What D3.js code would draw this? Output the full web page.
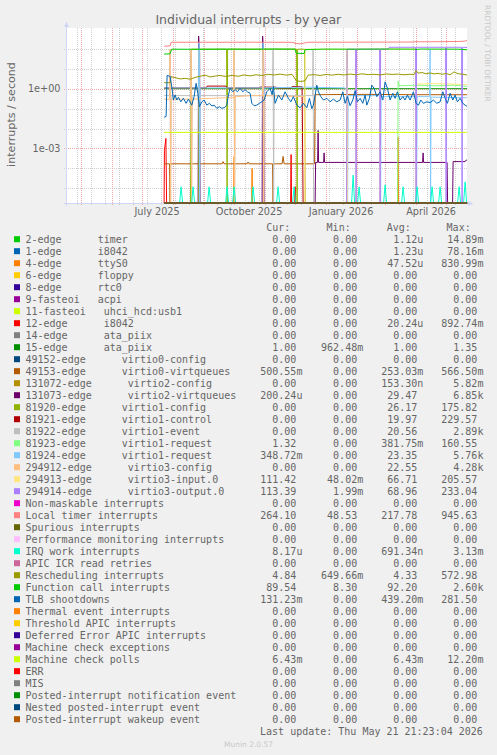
<!DOCTYPE html>
<html><head><meta charset="utf-8">
<script src="https://cdnjs.cloudflare.com/ajax/libs/d3/7.8.5/d3.min.js"></script>
<style>
html,body{margin:0;padding:0;background:#f0f0f0;}
svg{display:block;}
text{font-family:"DejaVu Sans",sans-serif;fill:#666;}
.mono{font-family:"DejaVu Sans Mono",monospace;white-space:pre;}
</style></head><body>
<svg id="chart" width="497" height="755"></svg>
<script>
// ---------- data ----------
const titleText = "Individual interrupts - by year";
const yAxisTitle = "interrupts / second";
const lastUpdate = "Last update: Thu May 21 21:23:04 2026";
const endTime = "2026-05-21T21:23:04Z";
const rangeDays = 400;
const dataStart = "2025-07-23T00:00:00Z";   // day 0 of the series below
const yDomain = [1.84e-6, 1112];
const yTickValues = [1, 1e-3];
const yTickLabels = ["1e+00", "1e-03"];
const xTickDates = ["2025-07-16", "2025-10-16", "2026-01-16", "2026-04-16"];
const xTickLabels = ["July 2025", "October 2025", "January 2026", "April 2026"];
const weekGridStart = "2025-04-27";

const seriesLabels = [
 "2-edge      timer","1-edge      i8042","4-edge      ttyS0","6-edge      floppy","8-edge      rtc0",
 "9-fasteoi   acpi","11-fasteoi   uhci_hcd:usb1","12-edge      i8042","14-edge      ata_piix","15-edge      ata_piix",
 "49152-edge      virtio0-config","49153-edge      virtio0-virtqueues","131072-edge      virtio2-config",
 "131073-edge      virtio2-virtqueues","81920-edge      virtio1-config","81921-edge      virtio1-control",
 "81922-edge      virtio1-event","81923-edge      virtio1-request","81924-edge      virtio1-request",
 "294912-edge      virtio3-config","294913-edge      virtio3-input.0","294914-edge      virtio3-output.0",
 "Non-maskable interrupts","Local timer interrupts","Spurious interrupts","Performance monitoring interrupts",
 "IRQ work interrupts","APIC ICR read retries","Rescheduling interrupts","Function call interrupts","TLB shootdowns",
 "Thermal event interrupts","Threshold APIC interrupts","Deferred Error APIC interrupts","Machine check exceptions",
 "Machine check polls","ERR","MIS","Posted-interrupt notification event","Nested posted-interrupt event",
 "Posted-interrupt wakeup event"];
const seriesColors = [
 "#00cc00","#0066b3","#ff8000","#ffcc00","#330099","#990099","#ccff00","#ff0000","#808080","#008f00",
 "#00487d","#b35a00","#b38f00","#6b006b","#8fb300","#b30000","#bebebe","#80ff80","#80c9ff","#ffc080",
 "#ffe680","#aa80ff","#ee00cc","#ff8080","#666600","#ffbfff","#00ffcc","#cc6699","#999900","#00cc00",
 "#0066b3","#ff8000","#ffcc00","#330099","#990099","#ccff00","#ff0000","#808080","#008f00","#00487d","#b35a00"];
const curValues = ["0.00","0.00","0.00","0.00","0.00","0.00","0.00","0.00","0.00","1.00","0.00","500.55m","0.00","200.24u","0.00","0.00","0.00","1.32","348.72m","0.00","111.42","113.39","0.00","264.10","0.00","0.00","8.17u","0.00","4.84","89.54","131.23m","0.00","0.00","0.00","0.00","6.43m","0.00","0.00","0.00","0.00","0.00"];
const minValues = ["0.00","0.00","0.00","0.00","0.00","0.00","0.00","0.00","0.00","962.48m","0.00","0.00","0.00","0.00","0.00","0.00","0.00","0.00","0.00","0.00","48.02m","1.99m","0.00","48.53","0.00","0.00","0.00","0.00","649.66m","8.30","0.00","0.00","0.00","0.00","0.00","0.00","0.00","0.00","0.00","0.00","0.00"];
const avgValues = ["1.12u","1.23u","47.52u","0.00","0.00","0.00","0.00","20.24u","0.00","1.00","0.00","253.03m","153.30n","29.47","26.17","19.97","20.56","381.75m","23.35","22.55","66.71","68.96","0.00","217.78","0.00","0.00","691.34n","0.00","4.33","92.20","439.20m","0.00","0.00","0.00","0.00","6.43m","0.00","0.00","0.00","0.00","0.00"];
const maxValues = ["14.89m","78.16m","830.99m","0.00","0.00","0.00","0.00","892.74m","0.00","1.35","0.00","566.50m","5.82m","6.85k","175.82","229.57","2.89k","160.55","5.76k","4.28k","205.57","233.04","0.00","945.63","0.00","0.00","3.13m","0.00","572.98","2.60k","281.50","0.00","0.00","0.00","0.00","12.20m","0.00","0.00","0.00","0.00","0.00"];

// series as [day since dataStart, value]
const zeroLine = [[0,0],[303,0]];
const ttyS0 = [[0,0],[69.5,0],[70,3.9e-4],[70.5,0],[87.5,0],[88,1.0e-4],[88.5,0],[233.5,0],[234,3.8e-3],[234.5,0],[303,0]];
const irq12 = [[0,0],[0.3,8e-4],[1.8,3.2e-3],[2.5,0],[126.5,0],[127,5e-4],[127.5,0],[130.5,0],[131,1.2e-5],[131.5,0],[303,0]];
const irq15 = [[0,1],[303,1]];
const irq49153 = [[0,1.7e-4],[5.5,1.7e-4],[6,0],[6.5,1.7e-4],[58,1.7e-4],[59,2.2e-4],[60,1.7e-4],[83,1.7e-4],[84,2.1e-4],[85,1.7e-4],[108.5,1.7e-4],[109,0],[109.5,1.7e-4],[118,1.7e-4],[119,4e-4],[120,1.7e-4],[150.5,1.7e-4],[151,0.5],[200,0.52],[250,0.5],[303,0.5]];
const irq131073 = [[0,0],[34,0],[34.5,440],[35.5,60],[36,0],[98,0],[98.5,440],[99.5,60],[100,0],[151,0],[151.5,2e-4],[153.5,2e-4],[154,8e-3],[154.5,2e-4],[159.5,2e-4],[160,6e-4],[160.5,2e-4],[258.5,2e-4],[259,6e-4],[259.5,2e-4],[283,2e-4],[283.5,0],[288.5,0],[289,2.2e-4],[301,2.2e-4],[302,2.6e-4],[303,2.6e-4]];
const irq81920 = [[0,0],[26.5,0],[27,96],[34.5,96],[35,0],[35.5,96],[62.5,96],[63,0],[63.5,96],[132.5,96],[133,0],[133.5,96],[140.5,96],[141,0],[303,0]];
const irq81921 = [[0,1.1],[20,1.1],[42,1.1],[43,1.35],[62,1.35],[63,1.1],[95,1.1],[96,1.2],[112,1.2],[113,1.1],[127,1.1],[128,1.3],[138,1.25],[139,0],[303,0]];
const irq81922 = [[0,0.45],[5.5,0.45],[6,96],[6.5,0],[7,0.45],[26.5,0.45],[27,96],[27.5,0],[28,0.45],[34.5,0.45],[35,96],[35.5,0],[36,0.45],[69.5,0.45],[70,96],[70.5,0],[71,0.45],[98.5,0.45],[99,96],[99.5,0],[100,0.45],[108.5,0.45],[109,96],[109.5,0],[110,0.45],[148.5,0.45],[149,96],[149.5,0],[303,0]];
const irq81923 = [[0,0],[233.5,0],[234,2.4],[235,1.4],[250,1.5],[270,1.4],[290,1.5],[303,1.32]];
const irq81924 = [[0,1.1],[34.5,1.1],[35,200],[35.5,0],[36,1.1],[98.5,1.1],[99,200],[99.5,0],[100,1.1],[140,1.2],[180,1.1],[182.5,1.0],[183,96],[183.5,0],[184,0.45],[215.5,0.45],[216,96],[216.5,0],[217,0.4],[251.5,0.4],[252,96],[252.5,0],[253,0.4],[265.5,0.4],[266,96],[266.5,0],[267,0.38],[303,0.35]];
const irq294912 = [[0,0.3],[5.5,0.3],[6,96],[6.5,0],[7,0.3],[26.5,0.3],[27,96],[27.5,0],[28,0.3],[60,0.35],[69.5,0.35],[70,96],[70.5,0],[71,0.4],[88,0.45],[98.5,0.45],[99,96],[99.5,0],[100,0.45],[140,0.4],[141,0],[303,0]];
const irq294913 = [[0,0],[140.5,0],[141,96],[182.5,96],[183,0],[183.5,96],[191.5,96],[192,0],[192.5,96],[215.5,96],[216,0],[216.5,96],[251.5,96],[252,0],[252.5,1.7],[270,1.8],[290,1.7],[303,1.6]];
const irq294914 = [[0,0],[182.5,0],[183,96],[191.5,96],[192,0],[192.5,96],[215.5,96],[216,0],[216.5,96],[224,96],[225,120],[251.5,120],[252,0],[252.5,120],[281.5,120],[282,0],[282.5,120],[297.5,120],[298,0],[298.5,120],[303,118]];
const localTimer = [[0,135],[6,140],[7,213],[30,215],[60,214],[90,216],[110,214],[128,213],[132,186],[136,178],[141,200],[144,214],[180,216],[220,218],[250,220],[252,232],[256,225],[280,230],[295,236],[300,242],[303,262]];
const irqWork = [[0,0],[15.5,0],[17,1.2e-5],[18.5,0],[27.5,0],[29,1.2e-5],[30.5,0],[43.5,0],[45,1.2e-5],[46.5,0],[61.5,0],[63,1.2e-5],[64.5,0],[68.5,0],[70,1.2e-5],[71.5,0],[87.5,0],[89,1.2e-5],[90.5,0],[112.5,0],[114,1.2e-5],[115.5,0],[128.5,0],[130,1.2e-5],[131.5,0],[187.5,0],[189,4.6e-5],[190.5,0],[193.5,0],[195,1.2e-5],[196.5,0],[219.5,0],[221,1.5e-5],[222.5,0],[237.5,0],[239,1.2e-5],[240.5,0],[251.5,0],[253,1.2e-5],[254.5,0],[266.5,0],[268,1.2e-5],[269.5,0],[274.5,0],[276,1.2e-5],[277.5,0],[293.5,0],[295,1.2e-5],[296.5,0],[299.5,0],[301,2.1e-5],[302.5,0],[303,0]];
const rescheduling = [[0,2.0],[6,2.0],[7,4.0],[11,3.6],[16,3.1],[21,3.3],[26,3.0],[32,3.8],[36,4.2],[41,4.8],[46,3.9],[51,4.3],[56,4.6],[62,4.1],[68,4.7],[74,4.2],[80,4.9],[86,4.4],[92,5.0],[98,4.6],[104,5.3],[110,4.9],[116,5.4],[122,4.8],[128,5.2],[132,2.6],[136,2.3],[141,2.5],[144,4.8],[150,5.1],[156,4.6],[162,5.2],[168,4.8],[174,5.3],[180,4.9],[186,5.4],[192,5.0],[198,5.6],[204,5.1],[210,5.3],[216,4.9],[222,5.5],[228,5.2],[234,5.4],[240,5.0],[246,5.3],[250,5.1],[252,8.2],[254,6.0],[258,6.5],[262,5.6],[266,6.2],[270,5.5],[274,5.9],[278,5.3],[282,5.8],[286,5.0],[290,7.0],[294,5.6],[298,5.4],[303,4.84]];
const functionCall = [[0,55],[6,56],[7.5,96],[30,95],[60,97],[90,96],[110,98],[131,97],[132,60],[140,58],[141,92],[160,97],[190,96],[220,98],[250,97],[252,93],[256,98],[280,97],[296,96],[303,89.5]];
const tlb = [[0,0.037],[2,0.04],[3,4.6],[6,4.2],[7.7,1.26],[9.3,0.27],[11,0.48],[12.7,0.27],[14.3,0.37],[16.7,0.22],[19.3,0.33],[22,0.185],[24.3,0.3],[27.7,0.15],[30,0.4],[32,1.86],[33.7,0.59],[35.3,0.125],[37.7,0.22],[40,0.27],[42.7,0.15],[45.3,0.185],[47.7,0.136],[50,0.15],[52.7,0.104],[55.3,0.125],[57.7,0.104],[60,0.11],[62.7,0.15],[64.3,0.48],[66,1.05],[68.7,0.7],[71,0.9],[73.3,0.7],[76,1.05],[78.7,0.7],[81,0.9],[83.3,0.7],[86,0.59],[87.7,0.185],[90,0.14],[92.7,0.15],[95.3,0.185],[97.7,0.22],[100,0.27],[102.7,0.7],[106,1.05],[108,0.5],[109.3,1.3],[111,0.185],[114.3,0.48],[117.7,0.27],[121,0.7],[124.3,0.33],[126.7,0.22],[129.3,0.4],[132.7,0.15],[136,0.11],[139.3,0.185],[142.7,0.11],[145.3,0.33],[147.7,0.1],[149.3,0.15],[152.7,1.5],[154.3,0.7],[156.7,0.4],[159.3,0.27],[162.7,0.33],[166,0.22],[169.3,0.3],[172.7,0.22],[176,0.27],[178.7,0.7],[181,0.185],[183.3,0.4],[186,0.14],[188.7,0.27],[191,0.8],[193.3,0.22],[196,0.33],[198.7,0.185],[201,0.48],[202.7,0.15],[205.3,0.33],[207.7,1.5],[210,1.05],[212.7,0.4],[216,0.7],[218.7,0.27],[221,2.2],[223.3,1.05],[226,0.27],[228.7,0.59],[231,0.33],[233.3,0.7],[236,0.27],[238.7,0.4],[241,0.27],[243.3,0.48],[246,0.27],[249.3,0.7],[252,0.185],[254.3,0.15],[256.7,0.27],[259.3,0.185],[262.7,0.22],[266,0.2],[269.3,0.27],[272.7,0.185],[276,0.22],[278.7,0.7],[281,0.33],[283.3,0.185],[286,0.59],[288.7,0.27],[291,0.48],[293.3,0.22],[296,0.33],[298.7,0.185],[301,0.15],[303,0.13]];
const mcPolls = [[0,6.43e-3],[303,6.43e-3]];

const seriesData = [zeroLine,zeroLine,ttyS0,zeroLine,zeroLine,zeroLine,zeroLine,irq12,zeroLine,irq15,
 zeroLine,irq49153,zeroLine,irq131073,irq81920,irq81921,irq81922,irq81923,irq81924,irq294912,
 irq294913,irq294914,zeroLine,localTimer,zeroLine,zeroLine,irqWork,zeroLine,rescheduling,functionCall,
 tlb,zeroLine,zeroLine,zeroLine,zeroLine,mcPolls,zeroLine,zeroLine,zeroLine,zeroLine,zeroLine];

// ---------- drawing ----------
const svg = d3.select("#chart");
const L = 67, R = 467, T = 28, B = 203;
const end = new Date(endTime);
const start = new Date(end.getTime() - rangeDays*864e5);
const x = d3.scaleTime().domain([start, end]).range([L, R]);
const y = d3.scaleLog().domain(yDomain).range([B, T]).clamp(true);
const t0 = new Date(dataStart).getTime();
const xd = d => x(new Date(t0 + d*864e5));
const yv = v => v <= yDomain[0] ? B : y(v);

svg.append("rect").attr("x",L).attr("y",T).attr("width",R-L).attr("height",B-T).attr("fill","#fff");

// grid
const minorColor = "#cfcfcf", majorColor = "#f3a6a6";
const grid = svg.append("g");
const decades = d3.range(-5, 3);
decades.forEach(k => {
  const yy = Math.round(y(Math.pow(10,k))) + 0.5;
  const major = (k % 3 === 0);
  grid.append("line").attr("x1",L-3).attr("x2",R).attr("y1",yy).attr("y2",yy)
    .attr("stroke", major ? majorColor : minorColor).attr("stroke-width",1)
    .attr("stroke-dasharray","1,1");
});
const weeks = d3.utcSunday.range(new Date(weekGridStart+"T00:00:00Z"), end, 2);
weeks.forEach(w => {
  const xx = Math.round(x(w)) + 0.5;
  grid.append("line").attr("x1",xx).attr("x2",xx).attr("y1",T).attr("y2",B+2)
    .attr("stroke",minorColor).attr("stroke-dasharray","1,1");
});
const months = d3.utcMonth.range(d3.utcMonth.ceil(start), end);
months.forEach(m => {
  const xx = Math.round(x(m)) + 0.5;
  grid.append("line").attr("x1",xx).attr("x2",xx).attr("y1",T).attr("y2",B+3)
    .attr("stroke",majorColor).attr("stroke-dasharray","1,1");
});

// axes
const axisColor = "#CFD6F8";
svg.append("line").attr("x1",L-0.5).attr("x2",L-0.5).attr("y1",B+3).attr("y2",T-2).attr("stroke",axisColor);
svg.append("line").attr("x1",L-3).attr("x2",R+2).attr("y1",B+0.5).attr("y2",B+0.5).attr("stroke",axisColor);
svg.append("path").attr("d",`M${L-3},${T-1}L${L+2},${T-1}L${L-0.5},${T-6.5}Z`).attr("fill",axisColor);
svg.append("path").attr("d",`M${R+1},${B-2}L${R+1},${B+3}L${R+6.5},${B+0.5}Z`).attr("fill",axisColor);

// series
svg.append("clipPath").attr("id","clip").append("rect").attr("x",L).attr("y",T-1).attr("width",R-L+0.5).attr("height",B-T+2);
const lineGen = d3.line().x(p => xd(p[0])).y(p => yv(p[1]));
const plot = svg.append("g").attr("clip-path","url(#clip)");
seriesData.forEach((pts, i) => {
  plot.append("path").attr("d", lineGen(pts)).attr("fill","none")
    .attr("stroke", seriesColors[i]).attr("stroke-width", 1).attr("stroke-linejoin","round");
});

// tick labels
yTickValues.forEach((v,i) => {
  svg.append("text").attr("x",60.5).attr("y",y(v)+3.5).attr("text-anchor","end")
    .attr("font-size","9.7px").text(yTickLabels[i]);
});
xTickDates.forEach((dstr,i) => {
  svg.append("text").attr("x",x(new Date(dstr+"T00:00:00Z"))).attr("y",214.5).attr("text-anchor","middle")
    .attr("font-size","9.7px").text(xTickLabels[i]);
});

// titles
svg.append("text").attr("x",248.3).attr("y",24).attr("text-anchor","middle").attr("font-size","12.5px").text(titleText);
svg.append("text").attr("transform","translate(15,114.5) rotate(-90)").attr("text-anchor","middle")
  .attr("font-size","11.1px").text(yAxisTitle);
svg.append("text").attr("transform","translate(484.5,5) rotate(90)").attr("font-size","7.5px")
  .style("fill","#c8c8c8").text("RRDTOOL / TOBI OETIKER");

// legend
const lg = svg.append("g");
const headers = [["Cur:",266.3],["Min:",326.6],["Avg:",386.8],["Max:",446.6]];
headers.forEach(h => lg.append("text").attr("class","mono").attr("x",h[1]).attr("y",230.5).attr("font-size","10px").text(h[0]));
const colRight = [296.4, 357.2, 417.3, 477.4];
seriesLabels.forEach((lab, i) => {
  const by = 242.5 + 12*i;
  lg.append("rect").attr("x",14).attr("y",by-6.3).attr("width",6).attr("height",6).attr("fill",seriesColors[i]);
  lg.append("text").attr("class","mono").attr("xml:space","preserve").attr("x",25.5).attr("y",by).attr("font-size","10px").text(lab);
  [curValues[i],minValues[i],avgValues[i],maxValues[i]].forEach((val, c) => {
    const last = val.slice(-1);
    const hasUnit = /[a-zA-Z]/.test(last);
    const num = hasUnit ? val.slice(0,-1) : val;
    lg.append("text").attr("class","mono").attr("x",colRight[c]).attr("y",by).attr("text-anchor","end").attr("font-size","10px").text(num);
    if (hasUnit) lg.append("text").attr("class","mono").attr("x",colRight[c]).attr("y",by).attr("font-size","10px").text(last);
  });
});
lg.append("text").attr("class","mono").attr("x",482.8).attr("y",734.5).attr("text-anchor","end").attr("font-size","10px").text(lastUpdate);
svg.append("text").attr("x",248.5).attr("y",746.5).attr("text-anchor","middle").attr("font-size","7.5px").style("fill","#c8c8c8").text("Munin 2.0.57");
</script></body></html>
